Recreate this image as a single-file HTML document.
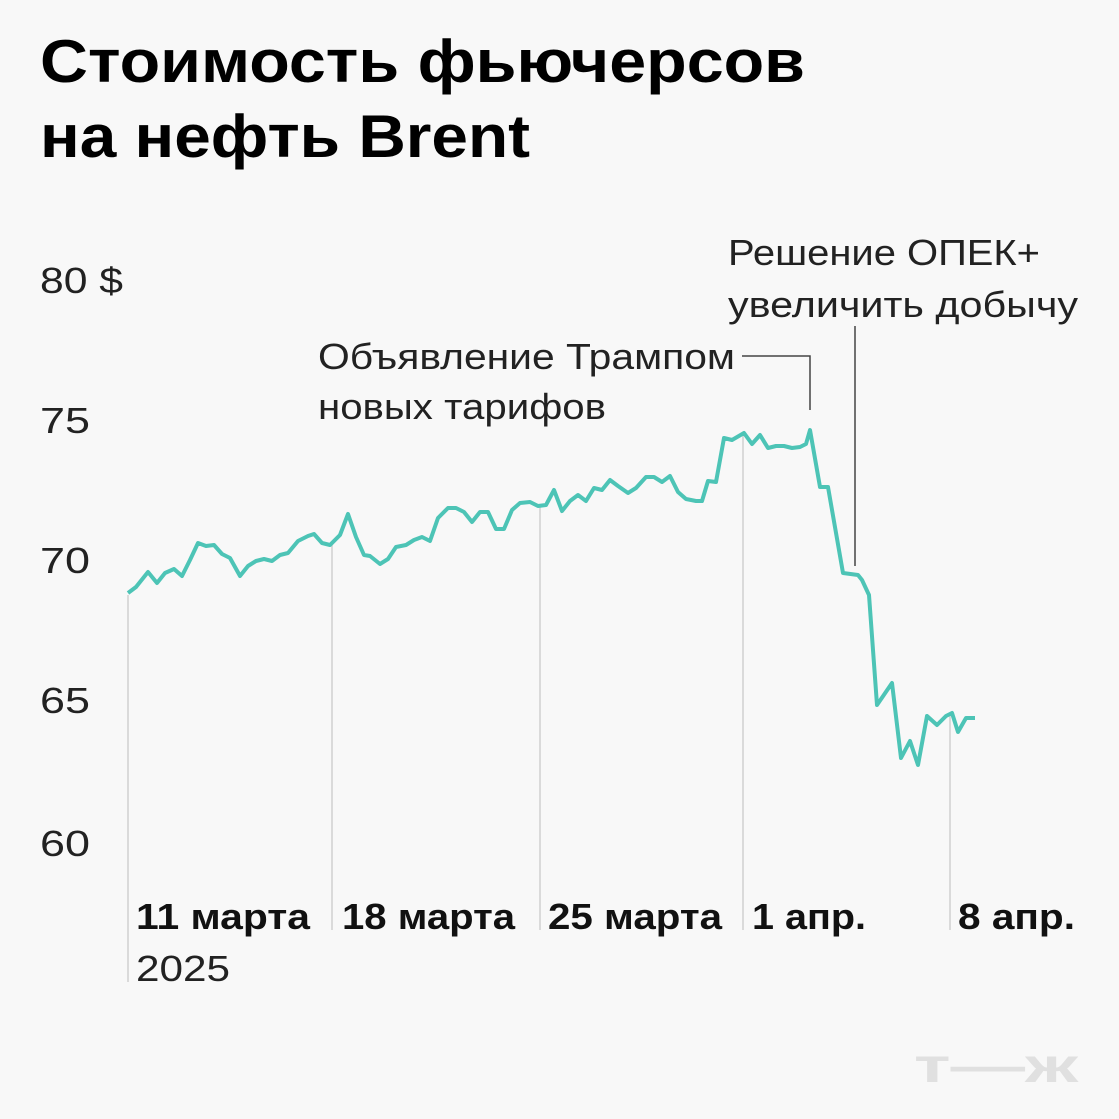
<!DOCTYPE html>
<html><head><meta charset="utf-8"><style>
html,body{margin:0;padding:0;background:#f8f8f8;}
body{width:1119px;height:1119px;overflow:hidden;position:relative;font-family:"Liberation Sans",sans-serif;}
</style></head><body>
<svg width="1119" height="1119" viewBox="0 0 1119 1119" xmlns="http://www.w3.org/2000/svg" style="position:absolute;left:0;top:0">
<rect width="1119" height="1119" fill="#f8f8f8"/>
<g font-family="Liberation Sans, sans-serif" font-weight="bold" font-size="60" fill="#000" lengthAdjust="spacingAndGlyphs">
<text x="40" y="82" textLength="765" lengthAdjust="spacingAndGlyphs">Стоимость фьючерсов</text>
<text x="40" y="157" textLength="490" lengthAdjust="spacingAndGlyphs">на нефть Brent</text>
</g>
<g font-family="Liberation Sans, sans-serif" font-size="36" fill="#222">
<text x="40" y="293" textLength="83" lengthAdjust="spacingAndGlyphs">80 $</text>
<text x="40" y="433" textLength="50" lengthAdjust="spacingAndGlyphs">75</text>
<text x="40" y="573" textLength="50" lengthAdjust="spacingAndGlyphs">70</text>
<text x="40" y="713" textLength="50" lengthAdjust="spacingAndGlyphs">65</text>
<text x="40" y="856" textLength="50" lengthAdjust="spacingAndGlyphs">60</text>
<text x="318" y="369" textLength="417" lengthAdjust="spacingAndGlyphs">Объявление Трампом</text>
<text x="318" y="419" textLength="288" lengthAdjust="spacingAndGlyphs">новых тарифов</text>
<text x="728" y="265" textLength="312" lengthAdjust="spacingAndGlyphs">Решение ОПЕК+</text>
<text x="728" y="317" textLength="350" lengthAdjust="spacingAndGlyphs">увеличить добычу</text>
<text x="136" y="981" textLength="94" lengthAdjust="spacingAndGlyphs">2025</text>
</g>
<g font-family="Liberation Sans, sans-serif" font-weight="bold" font-size="36" fill="#111">
<text x="136" y="929" textLength="174" lengthAdjust="spacingAndGlyphs">11 марта</text>
<text x="342" y="929" textLength="173" lengthAdjust="spacingAndGlyphs">18 марта</text>
<text x="548" y="929" textLength="174" lengthAdjust="spacingAndGlyphs">25 марта</text>
<text x="752" y="929" textLength="114" lengthAdjust="spacingAndGlyphs">1 апр.</text>
<text x="958" y="929" textLength="117" lengthAdjust="spacingAndGlyphs">8 апр.</text>
</g>
<g stroke="#d0d0d0" stroke-width="1.5">
<line x1="128" y1="595" x2="128" y2="982"/>
<line x1="332" y1="545" x2="332" y2="930"/>
<line x1="540" y1="505" x2="540" y2="930"/>
<line x1="743" y1="436" x2="743" y2="930"/>
<line x1="950" y1="716" x2="950" y2="930"/>
</g>
<g stroke="#444" stroke-width="1.5" fill="none">
<polyline points="742,356 810,356 810,410"/>
<line x1="855" y1="326" x2="855" y2="566"/>
</g>
<polyline fill="none" stroke="#4dc4b6" stroke-width="4" stroke-linejoin="round" points="128,593 136,587 148,572 157,583 165,573 174,569 182,576 190,560 198,543 206,546 214,545 222,554 230,558 240,576 248,566 256,561 264,559 272,561 280,555 288,553 298,541 308,536 314,534 322,543 330,545 340,535 348,514 356,537 364,555 370,556 380,564 388,559 396,547 406,545 414,540 422,537 430,541 438,518 448,508 456,508 464,512 472,522 480,512 488,512 496,529 504,529 512,510 520,503 530,502 538,506 546,505 554,490 562,511 570,501 578,495 586,501 594,488 602,490 610,480 618,486 628,493 636,488 646,477 654,477 662,482 670,476 678,492 686,499 696,501 702,501 708,481 716,482 724,438 732,440 744,433 752,444 760,435 768,448 776,446 784,446 792,448 800,447 806,444 810,430 820,487 828,487 843,573 858,575 862,580 869,595 877,705 892,683 901,758 910,741 918,765 927,716 937,725 946,716 952,713 958,732 966,718 975,718"/>
<text x="914" y="1082" font-family="Liberation Sans, sans-serif" font-weight="bold" font-size="48" fill="#e0e0e0" textLength="164" lengthAdjust="spacingAndGlyphs">т—ж</text>
</svg>
</body></html>
